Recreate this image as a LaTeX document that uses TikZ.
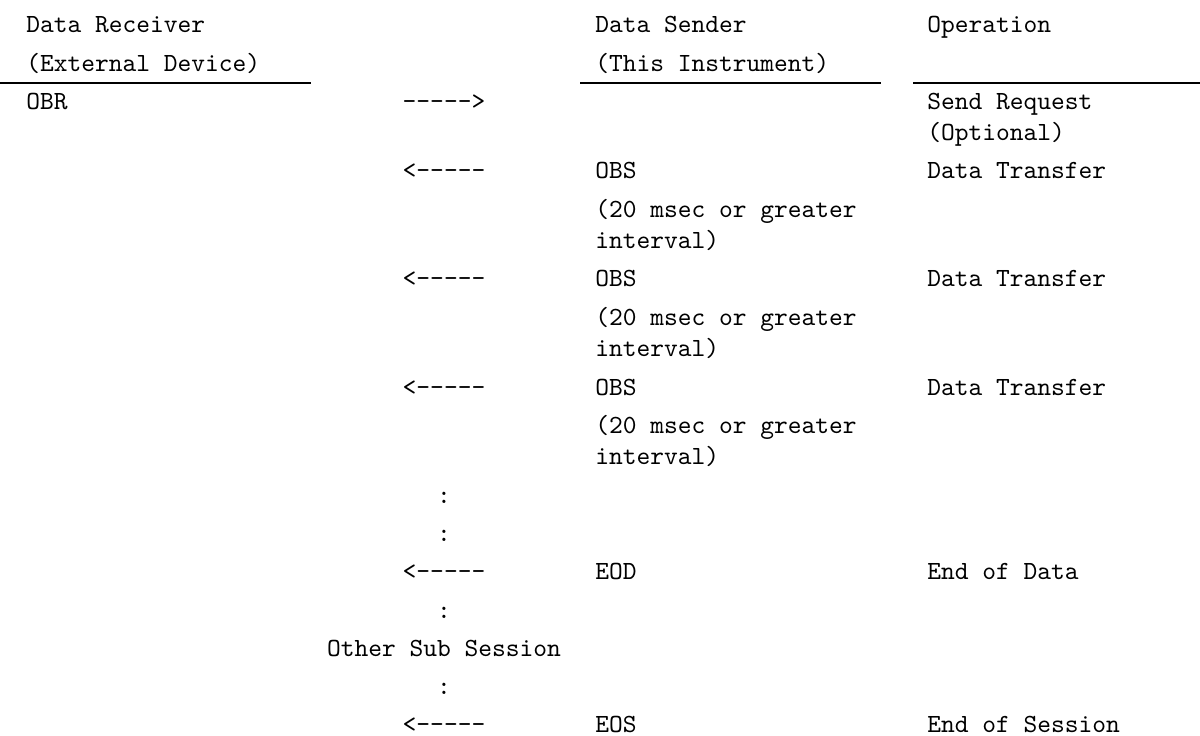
\documentclass[tikz,border=0pt]{standalone}
\usepackage{fontspec}
\setmonofont{lmmono10-regular.otf}
\usepackage{xcolor}
\usepackage{tikz}

\begin{document}
\begin{tikzpicture}[
    x=0.5pt, y=-0.5pt,
    cell/.style={inner sep=0pt, anchor=base west, align=left, font=\ttfamily\fontsize{13.1}{15.75}\selectfont},
    mid/.style={cell, anchor=base, align=center},
    rule/.style={line width=0.75pt}
]
    \useasboundingbox (0,0) rectangle (1200,735);

    \node[cell] (rcvhead) at (26,32) {Data Receiver};
    \node[cell] (sndhead) at (595,32) {Data Sender};
    \node[cell] (ophead) at (927,32) {Operation};
    \node[cell] (rcvsub) at (26,71) {(External Device)};
    \node[cell] (sndsub) at (595,71) {(This Instrument)};

    \draw[rule] (0,83) -- (311,83);
    \draw[rule] (580,83) -- (881,83);
    \draw[rule] (913,83) -- (1200,83);

    \node[cell] (obr) at (26,109) {OBR};
    \node[mid] (req) at (444,109) {----->};
    \node[cell] (sendreq) at (927,140.5) {Send Request\\(Optional)};

    \node[mid] (arrowa) at (444,178.8) {<-----};
    \node[cell] (obsa) at (595,178.8) {OBS};
    \node[cell] (xfera) at (927,178.8) {Data Transfer};
    \node[cell] (gapa) at (595,248.6) {(20 msec or greater\\interval)};

    \node[mid] (arrowb) at (444,286.9) {<-----};
    \node[cell] (obsb) at (595,286.9) {OBS};
    \node[cell] (xferb) at (927,286.9) {Data Transfer};
    \node[cell] (gapb) at (595,356.7) {(20 msec or greater\\interval)};

    \node[mid] (arrowc) at (444,395) {<-----};
    \node[cell] (obsc) at (595,395) {OBS};
    \node[cell] (xferc) at (927,395) {Data Transfer};
    \node[cell] (gapc) at (595,464.8) {(20 msec or greater\\interval)};

    \node[mid] (dotsa) at (444,503.1) {:};
    \node[mid] (dotsb) at (444,541.4) {:};

    \node[mid] (arrowd) at (444,579.7) {<-----};
    \node[cell] (eod) at (595,579.7) {EOD};
    \node[cell] (eodop) at (927,579.7) {End of Data};

    \node[mid] (dotsc) at (444,618) {:};
    \node[mid] (other) at (444,656.3) {Other Sub Session};
    \node[mid] (dotsd) at (444,694.6) {:};

    \node[mid] (arrowe) at (444,732.9) {<-----};
    \node[cell] (eos) at (595,732.9) {EOS};
    \node[cell] (eosop) at (927,732.9) {End of Session};
\end{tikzpicture}
\end{document}
